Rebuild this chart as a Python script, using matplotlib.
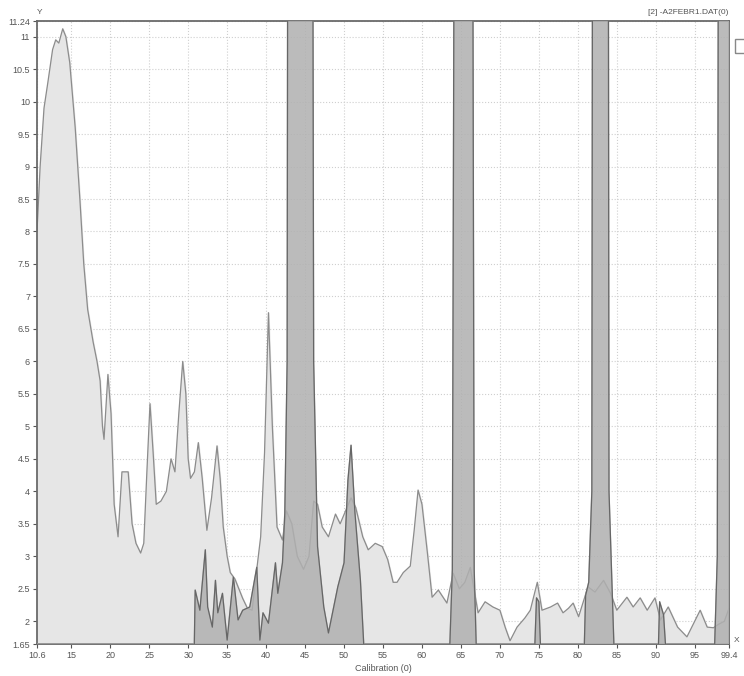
import matplotlib
matplotlib.use("Agg")
import matplotlib.pyplot as plt
from matplotlib.patches import Rectangle
import numpy as np

plt.rcParams['font.family'] = ['Liberation Sans', 'DejaVu Sans']

# light (full range) pattern
light_x = [10.6, 11.0, 11.5, 12.0, 12.6, 13.0, 13.4, 13.9, 14.3, 14.8, 15.5, 16.1, 16.6, 17.1,
           17.8, 18.3, 18.7, 19.0, 19.2, 19.7, 20.1, 20.5, 21.0, 21.5, 22.3, 22.8, 23.3, 23.9,
           24.3, 24.7, 25.1, 25.5, 25.9, 26.5, 27.2, 27.8, 28.3, 28.8, 29.3, 29.7, 30.0, 30.3,
           30.8, 31.3, 31.8, 32.4, 33.0, 33.7, 34.1, 34.5, 35.0, 35.4, 36.0, 36.5, 37.0, 37.6,
           38.2, 38.8, 39.3, 39.8, 40.3, 40.8, 41.4, 42.1, 42.6, 43.3, 44.0, 44.8, 45.5, 46.1,
           46.6, 47.2, 48.0, 48.9, 49.5, 50.2, 50.9, 51.5, 52.4, 53.1, 54.0, 54.9, 55.6, 56.3,
           56.8, 57.6, 58.5, 59.0, 59.5, 60.0, 60.7, 61.3, 62.1, 63.2, 64.0, 64.8, 65.5, 66.2,
           67.2, 68.1, 69.1, 70.0, 70.7, 71.3, 72.2, 73.2, 73.9, 74.8, 75.4, 76.5, 77.4, 78.1,
           78.8, 79.4, 80.1, 80.7, 81.3, 82.2, 83.3, 84.2, 85.0, 86.3, 87.1, 88.0, 88.9, 89.9,
           90.6, 91.6, 92.8, 94.0, 95.0, 95.7, 96.6, 97.4, 98.0, 98.8, 99.4]
light_y = [8.0, 9.0, 9.9, 10.3, 10.8, 10.95, 10.9, 11.12, 11.0, 10.6, 9.6, 8.5, 7.5, 6.8,
           6.3, 6.0, 5.7, 5.0, 4.8, 5.8, 5.2, 3.8, 3.3, 4.3, 4.3, 3.5, 3.2, 3.05,
           3.2, 4.3, 5.35, 4.6, 3.8, 3.85, 4.0, 4.5, 4.3, 5.2, 6.0, 5.5, 4.5, 4.2,
           4.3, 4.75, 4.2, 3.4, 3.9, 4.7, 4.2, 3.45, 3.0, 2.75, 2.65, 2.5, 2.35, 2.2,
           2.17, 2.8, 3.3, 4.6, 6.75, 5.0, 3.45, 3.25, 3.7, 3.5, 3.0, 2.8, 3.0, 3.85,
           3.8, 3.45, 3.3, 3.65, 3.5, 3.7, 3.9, 3.75, 3.3, 3.1, 3.2, 3.15, 2.95, 2.6,
           2.6, 2.75, 2.85, 3.4, 4.02, 3.8, 3.05, 2.37, 2.48, 2.28, 2.74, 2.5, 2.6, 2.83,
           2.13, 2.3, 2.22, 2.17, 1.9, 1.7, 1.91, 2.05, 2.17, 2.6, 2.17, 2.22, 2.28, 2.13,
           2.2, 2.28, 2.07, 2.3, 2.53, 2.45, 2.63, 2.43, 2.17, 2.37, 2.22, 2.36, 2.17, 2.36,
           2.02, 2.22, 1.91, 1.76, 2.0, 2.17, 1.91, 1.9, 1.95, 2.0, 2.2]

# dark pattern
dark_x = [10.6, 30.7, 30.9, 31.5, 32.2, 32.5, 33.1, 33.5, 33.8, 34.4, 35.0, 35.8, 36.4, 37.0,
          37.9, 38.8, 39.2, 39.6, 40.3, 41.2, 41.5, 42.1, 42.4, 42.7, 42.9, 45.8, 46.1, 46.6,
          47.4, 48.0, 49.2, 50.0, 50.5, 50.9, 51.4, 52.1, 52.5, 52.8, 63.4, 63.9, 64.4, 66.3,
          66.7, 67.1, 74.3, 74.7, 75.0, 75.4, 80.7, 81.0, 81.4, 81.8, 82.0, 83.8, 84.0, 84.8,
          90.2, 90.5, 91.0, 91.6, 97.4, 97.9, 98.2, 99.4]
dark_y = [1.0, 1.0, 2.48, 2.17, 3.1, 2.22, 1.91, 2.63, 2.13, 2.43, 1.71, 2.68, 2.02, 2.17,
          2.22, 2.83, 1.71, 2.13, 1.97, 2.9, 2.43, 2.9, 3.67, 6.0, 25.0, 25.0, 6.0, 3.15,
          2.22, 1.82, 2.53, 2.9, 4.17, 4.71, 3.67, 2.63, 1.71, 1.0, 1.0, 2.8, 25.0, 25.0,
          2.8, 1.0, 1.0, 2.36, 2.3, 1.0, 1.0, 2.4, 2.6, 4.0, 25.0, 25.0, 4.0, 1.0,
          1.0, 2.3, 2.1, 1.0, 1.0, 3.0, 25.0, 25.0]

x_ticks = [10.6, 15, 20, 25, 30, 35, 40, 45, 50, 55, 60, 65, 70, 75, 80, 85, 90, 95, 99.4]
x_labels = ['10.6', '15', '20', '25', '30', '35', '40', '45', '50', '55', '60', '65', '70',
            '75', '80', '85', '90', '95', '99.4']
y_ticks = [1.65, 2, 2.5, 3, 3.5, 4, 4.5, 5, 5.5, 6, 6.5, 7, 7.5, 8, 8.5, 9, 9.5, 10, 10.5, 11, 11.24]
y_labels = ['1.65', '2', '2.5', '3', '3.5', '4', '4.5', '5', '5.5', '6', '6.5', '7', '7.5', '8',
            '8.5', '9', '9.5', '10', '10.5', '11', '11.24']

fig = plt.figure(figsize=(7.44, 6.76), dpi=100)
ax = fig.add_axes([37 / 744, 32 / 676, 692 / 744, 623 / 676])

base = 1.65
ax.fill_between(light_x, light_y, base, color='#e6e6e6', zorder=1)
ax.plot(light_x, light_y, color='#8c8c8c', lw=0.9, zorder=2)
ax.fill_between(dark_x, dark_y, base, color='#b0b0b0', alpha=0.85, zorder=3)
ax.plot(dark_x, dark_y, color='#666666', lw=0.9, zorder=4)

ax.set_xlim(10.6, 99.4)
ax.set_ylim(1.65, 11.24)
ax.set_xticks(x_ticks)
ax.set_xticklabels(x_labels)
ax.set_yticks(y_ticks)
ax.set_yticklabels(y_labels)
ax.tick_params(labelsize=6.5, colors='#555555', length=3, width=0.8, pad=2)
ax.grid(True, color='#cfcfcf', linestyle=':', linewidth=0.8, zorder=0)
ax.set_axisbelow(True)
for s in ax.spines.values():
    s.set_color('#6a6a6a')
    s.set_linewidth(1.3)

ax.set_xlabel('Calibration (0)', fontsize=6.5, color='#555555', labelpad=3)
fig.text(40 / 744, 1 - 12 / 676, 'Y', fontsize=6, color='#555555', ha='center', va='center')
fig.text(737 / 744, 1 - 640 / 676, 'X', fontsize=6, color='#555555', ha='center', va='center')
fig.text(728 / 744, 1 - 12 / 676, '[2] -A2FEBR1.DAT(0)', fontsize=6, color='#555555',
         ha='right', va='center')
fig.patches.append(Rectangle((735 / 744, 1 - 53 / 676), 12 / 744, 14 / 676,
                             transform=fig.transFigure, fill=False, ec='#888888', lw=1))

fig.savefig('out.png', dpi=100)
